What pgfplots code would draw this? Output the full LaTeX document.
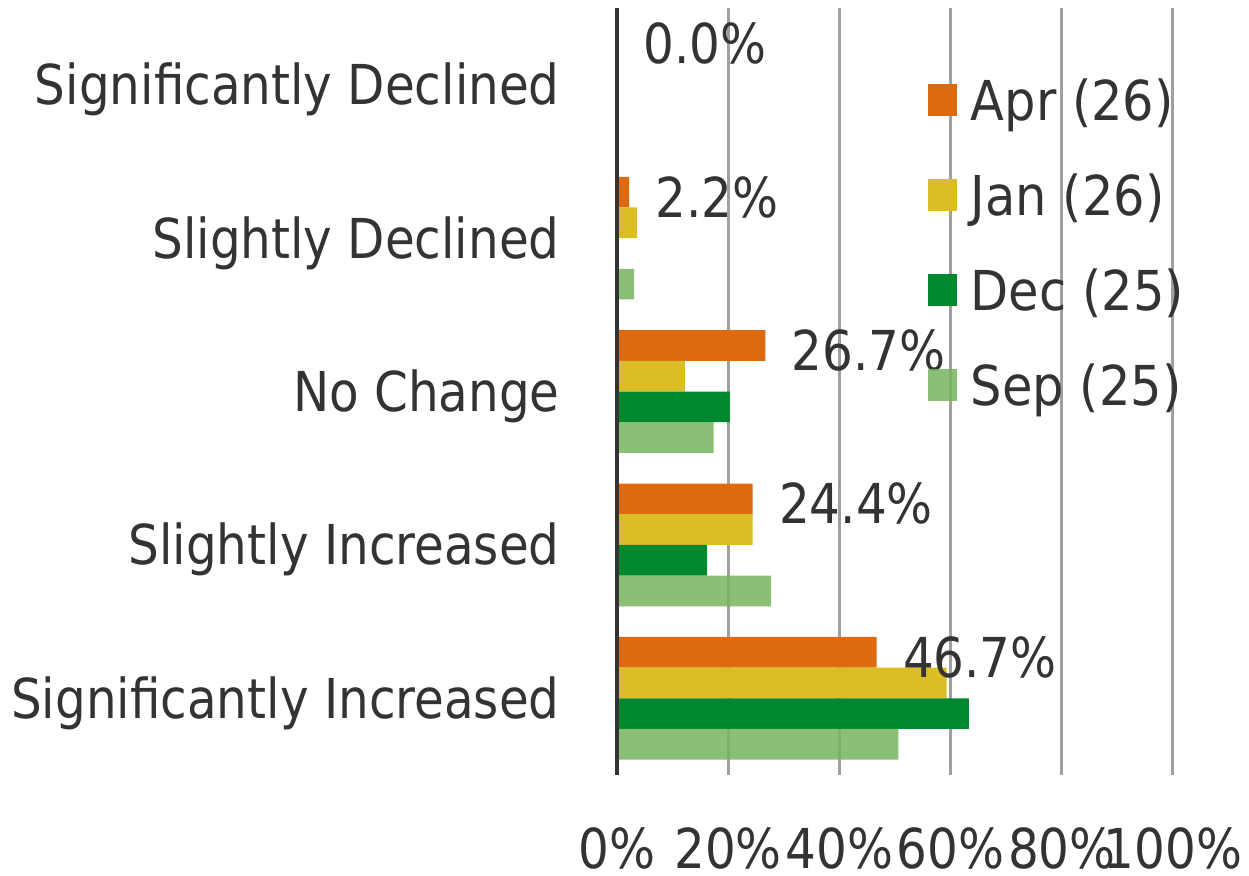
\documentclass[border=0pt]{standalone}
\usepackage{fontspec}
\setmainfont{DejaVu Sans}[FakeStretch=0.88]
\newfontfamily\tickfont{DejaVu Sans}[FakeStretch=0.88]
\newfontfamily\legfont{DejaVu Sans}[FakeStretch=0.9]
\usepackage{pgfplots}
\pgfplotsset{compat=1.18}

\definecolor{txt}{HTML}{333333}
\definecolor{gridgray}{HTML}{A0A0A0}
\definecolor{aprc}{HTML}{DE6A10}
\definecolor{janc}{HTML}{DBBE25}
\definecolor{decc}{HTML}{00882E}
\definecolor{sepc}{RGB}{119,180,96}

\begin{document}
\begin{tikzpicture}[font=\fontsize{27.5}{33}\selectfont, text=txt]
\begin{axis}[
    scale only axis,
    width=278pt, height=383.5pt,
    xbar, bar width=0.2,
    xmin=0, xmax=100,
    ymin=-0.5, ymax=4.5,
    y dir=reverse,
    axis line style={draw=none},
    major tick length=0pt,
    xtick={0,20,40,60,80,100},
    xticklabels={0\%,20\%,40\%,60\%,80\%,100\%},
    xticklabel style={font=\tickfont\fontsize{27.5}{33}\selectfont, anchor=base, inner sep=0pt, yshift=-46.5pt},
    ytick={0,1,2,3,4},
    yticklabels={Significantly Declined, Slightly Declined, No Change, Slightly Increased, Significantly Increased},
    yticklabel style={anchor=base east, inner sep=0pt, xshift=-28.5pt, yshift=-10pt},
    xmajorgrids,
    major grid style={draw=gridgray, line width=1.5pt},
    clip=false,
    legend cell align=left,
    legend image code/.code={\fill[#1] (0pt,-5.5pt) rectangle (14.5pt,10.5pt);},
    legend style={at={(0.559,0.9087)}, anchor=north west, draw=none, fill=none,
        inner sep=0pt, outer sep=0pt, row sep=20.5pt, column sep=7pt,
        font=\legfont\fontsize{27.5}{33}\selectfont,
        nodes={inner sep=0pt, text height=21pt, text depth=6pt, text=txt}},
]

\addplot[draw=none, fill=aprc, bar shift=-0.3,
    point meta=x,
    nodes near coords={\pgfmathprintnumber[fixed,zerofill,precision=1,assume math mode=true]{\pgfplotspointmeta}\%},
    every node near coord/.append style={anchor=base west, inner sep=0pt, xshift=13pt, yshift=-12.5pt, text=txt}
] coordinates {(0,0) (2.2,1) (26.7,2) (24.4,3) (46.7,4)};
\addlegendentry{Apr (26)}

\addplot[draw=none, fill=janc, bar shift=-0.1]
    coordinates {(0,0) (3.6,1) (12.2,2) (24.4,3) (59.3,4)};
\addlegendentry{Jan (26)}

\addplot[draw=none, fill=decc, bar shift=0.1]
    coordinates {(0,0) (0,1) (20.3,2) (16.2,3) (63.3,4)};
\addlegendentry{Dec (25)}

\addplot[draw=none, fill=sepc, fill opacity=0.85, bar shift=0.3]
    coordinates {(0,0) (3.1,1) (17.4,2) (27.7,3) (50.6,4)};
\addlegendentry{Sep (25)}

% left axis line
\draw[txt, line width=1.6pt] (axis cs:0,-0.5) -- (axis cs:0,4.5);
\end{axis}
\pgfresetboundingbox
\path (current axis.south west) ++(-308.5pt,-50pt) rectangle ++(624.5pt,437.5pt);
\end{tikzpicture}
\end{document}
